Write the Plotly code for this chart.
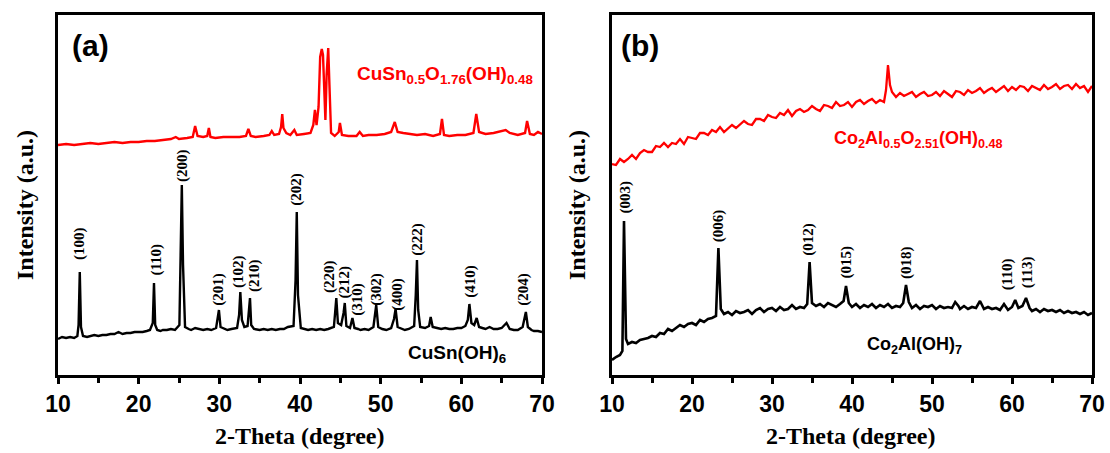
import plotly.graph_objects as go

# ---------------- Panel (a) data ----------------
a_black_x = [10, 10.5, 11, 11.5, 12, 12.4, 12.55, 12.7, 12.85, 13.1, 13.6, 14, 14.5, 15, 15.5, 16, 16.5, 17, 17.5, 18,
             18.5, 19, 19.5, 20, 20.5, 21, 21.4, 21.75, 21.9, 22.05, 22.3, 22.7, 23, 23.5, 24, 24.5, 25.05, 25.2, 25.35,
             25.5, 25.75, 26.2, 26.5, 27, 27.5, 28, 28.5, 29, 29.6, 29.8, 29.95, 30.15, 30.6, 31, 31.5, 32.2, 32.45, 32.6,
             32.8, 33.1, 33.5, 33.65, 33.8, 33.95, 34.3, 35, 35.5, 36, 36.5, 37, 37.5, 38, 38.5, 39.2, 39.45, 39.6, 39.75,
             40.1, 40.6, 41, 41.5, 42, 42.5, 43, 43.5, 44.2, 44.35, 44.5, 44.7, 45.1, 45.4, 45.55, 45.75, 46.2, 46.5,
             46.75, 47.2, 47.5, 48, 48.5, 49.1, 49.3, 49.45, 49.7, 50.2, 50.7, 51.3, 51.65, 51.85, 52.1, 52.6, 53, 53.5,
             54.15, 54.35, 54.5, 54.65, 54.9, 55.5, 56, 56.2, 56.45, 57, 57.5, 58, 58.5, 59, 59.5, 60, 60.5, 60.8, 61.0,
             61.25, 61.6, 61.9, 62.2, 62.6, 63, 63.5, 64, 64.5, 65, 65.6, 66, 66.5, 67, 67.6, 67.85, 68.0, 68.25, 68.7, 69,
             69.5, 70]
a_black_y = [36, 38, 37, 38, 37, 39, 50, 103, 48, 39, 38, 39, 40, 39, 40, 40, 41, 41, 43, 41,
             42, 42, 43, 43, 43, 44, 45, 52, 92, 50, 45, 44, 45, 45, 46, 45, 50, 120, 190, 110, 48, 46, 45, 47, 46, 45, 46,
             45, 47, 56, 65, 48, 46, 45, 46, 47, 60, 83, 55, 48, 49, 62, 77, 50, 46, 45, 46, 45, 46, 45, 46, 46, 48, 49, 95,
             163, 80, 47, 46, 45, 46, 45, 46, 45, 46, 48, 62, 77, 52, 50, 62, 72, 49, 47, 57, 47, 46, 45, 46, 45, 48, 60, 70,
             48, 46, 45, 47, 56, 66, 48, 46, 45, 46, 49, 80, 115, 65, 48, 47, 49, 58, 48, 47, 46, 47, 46, 46, 47, 47, 49, 55,
             71, 52, 50, 57, 48, 47, 46, 48, 46, 46, 47, 52, 46, 45, 45, 48, 56, 63, 48, 45, 44, 44, 43]

a_red_x = [10, 11, 12, 13, 14, 15, 16, 17, 18, 19, 20, 21, 22, 23, 24, 24.6, 25, 26, 26.7, 27, 27.3, 28, 28.5, 28.7,
           28.9, 29.5, 30.5, 31.5, 32.5, 33.3, 33.6, 33.9, 34.5, 35.5, 36.2, 36.5, 36.8, 37.4, 37.65, 37.8, 37.95, 38.3,
           38.8, 39.3, 39.6, 40.5, 41.3, 41.65, 41.85, 42.05, 42.3, 42.5, 42.7, 42.85, 42.95, 43.15, 43.3, 43.5, 43.65,
           43.85, 44.3, 44.8, 44.95, 45.2, 46, 47, 47.4, 47.8, 48.5, 49.5, 50.5, 51.3, 51.75, 52.1, 52.8, 53.5, 54.5,
           55.5, 56.5, 57.35, 57.6, 57.85, 58.5, 59.5, 60.5, 61.5, 61.85, 62.2, 63, 64, 65, 65.5, 66, 67, 67.9, 68.15,
           68.5, 69, 69.5, 70]
a_red_y = [230, 231, 230, 231, 232, 231, 232, 233, 232, 233, 233, 234, 234, 235, 236, 238, 236, 237, 238, 249, 239,
           238, 239, 247, 238, 237, 238, 238, 238, 239, 246, 239, 238, 239, 240, 244, 240, 241, 248, 261, 247, 242,
           240, 245, 240, 241, 242, 250, 265, 250, 268, 318, 326, 320, 300, 255, 300, 327, 290, 242, 239, 243, 252,
           240, 239, 239, 243, 239, 240, 240, 241, 243, 253, 243, 242, 241, 240, 241, 239, 241, 256, 240, 239, 240,
           240, 242, 261, 243, 241, 242, 244, 245, 242, 240, 242, 254, 241, 240, 243, 241]

a_peak_labels = ["(100)", "(110)", "(200)", "(201)", "(102)", "(210)", "(202)", "(220)", "(212)", "(310)",
                 "(302)", "(400)", "(222)", "(410)", "(204)"]
a_peak_x = [12.73, 22.1, 25.5, 29.8, 32.3, 34.3, 39.6, 43.6, 45.4, 47.05, 49.4, 52.0, 54.6, 61.05, 67.6]
a_peak_y = [131, 115, 209, 86, 104, 99, 186, 98, 93, 76, 86, 81, 136, 94, 86]

# ---------------- Panel (b) data ----------------
b_black_x = [10, 10.5, 11, 11.3, 11.5, 11.75, 12, 12.5, 13, 13.5,
             14, 14.5, 15, 15.5, 16, 16.5, 17, 17.5, 18, 18.5,
             19, 19.5, 20, 20.5, 21, 21.5, 22, 22.5, 23, 23.3,
             23.6, 24, 24.5, 25, 25.5, 26, 26.5, 27, 27.5, 28,
             28.5, 29, 29.5, 30, 30.5, 31, 31.5, 32, 32.5, 33,
             33.5, 34, 34.4, 34.7, 35, 35.5, 36, 36.5, 37, 37.5,
             38, 38.5, 38.95, 39.25, 39.6, 40, 40.5, 41, 41.5, 42,
             42.5, 43, 43.5, 44, 44.5, 45, 45.5, 46, 46.4, 46.75,
             47.1, 47.5, 48, 48.5, 49, 49.5, 50, 50.5, 51, 51.5,
             52, 52.5, 52.9, 53.3, 53.5, 54, 54.5, 55, 55.5, 56,
             56.5, 57, 57.5, 58, 58.5, 59, 59.5, 60, 60.4, 60.8,
             61.3, 61.75, 62.2, 62.5, 63, 63.5, 64, 64.5, 65, 65.5,
             66, 66.5, 67, 67.5, 68, 68.5, 69, 69.5, 70]
b_black_y = [15, 18, 20, 24, 154, 36, 31, 33, 32, 35,
             36, 37, 39, 38, 42, 41, 46, 44, 47, 50,
             48, 51, 52, 50, 55, 53, 56, 57, 59, 127,
             66, 61, 63, 60, 64, 62, 63, 65, 61, 65,
             67, 63, 66, 67, 64, 68, 65, 66, 70, 66,
             68, 67, 71, 113, 72, 69, 71, 68, 72, 70,
             68, 71, 74, 89, 72, 68, 71, 67, 70, 68,
             71, 67, 70, 68, 71, 67, 69, 68, 72, 90,
             73, 67, 70, 66, 69, 68, 70, 66, 69, 67,
             68, 67, 73, 69, 66, 69, 66, 68, 67, 74,
             66, 68, 66, 67, 65, 71, 65, 68, 75, 67,
             69, 77, 67, 64, 66, 63, 66, 64, 65, 63,
             65, 62, 64, 62, 63, 61, 63, 60, 62]

b_red_x = [10, 10.5, 11, 11.5, 12, 12.5, 13, 13.5, 14, 14.5,
           15, 15.5, 16, 16.5, 17, 17.5, 18, 18.5, 19, 19.5,
           20, 20.5, 21, 21.5, 22, 22.5, 23, 23.5, 24, 24.5,
           25, 25.5, 26, 26.5, 27, 27.5, 28, 28.5, 29, 29.5,
           30, 30.5, 31, 31.5, 32, 32.5, 33, 33.5, 34, 34.5,
           35, 35.5, 36, 36.5, 37, 37.5, 38, 38.5, 39, 39.5,
           40, 40.5, 41, 41.5, 42, 42.5, 43, 43.5, 44,
           44.25, 44.5, 44.75,
           45, 45.5, 46, 46.5, 47, 47.5, 48, 48.5, 49, 49.5,
           50, 50.5, 51, 51.5, 52, 52.5, 53, 53.5, 54, 54.5,
           55, 55.5, 56, 56.5, 57, 57.5, 58, 58.5, 59, 59.5,
           60, 60.5, 61, 61.5, 62, 62.5, 63, 63.5, 64, 64.5,
           65, 65.5, 66, 66.5, 67, 67.5, 68, 68.5, 69, 69.5,
           70]
b_red_y = [211, 210, 216, 213, 216, 220, 216, 222, 225, 223,
           223, 229, 228, 232, 228, 232, 231, 236, 231, 238,
           237, 236, 242, 242, 240, 245, 243, 248, 243, 247,
           250, 247, 251, 254, 251, 250, 256, 256, 254, 260,
           258, 257, 262, 260, 265, 259, 264, 266, 263, 265,
           269, 266, 264, 270, 269, 267, 273, 269, 270, 273,
           268, 273, 275, 271, 274, 276, 272, 275, 273,
           285, 310, 290,
           283, 278, 282, 279, 281, 283, 278, 281, 283, 279,
           280, 283, 279, 284, 281, 278, 284, 283, 280, 285,
           282, 284, 287, 282, 285, 287, 283, 286, 289, 284,
           288, 285, 289, 288, 284, 289, 287, 285, 290, 286,
           288, 291, 286, 289, 290, 286, 291, 287, 289, 283,
           289]

b_peak_labels = ["(003)", "(006)", "(012)", "(015)", "(018)", "(110)", "(113)"]
b_peak_x = [11.8, 23.4, 34.6, 39.3, 46.75, 59.4, 61.9]
b_peak_y = [178, 149, 136, 113, 112, 101, 103]

x_ticks = [10, 20, 30, 40, 50, 60, 70]
x_tick_text = ["10", "20", "30", "40", "50", "60", "70"]

# ---------------- Figure ----------------
W, H = 1110, 453
RED = "#ff0000"
fig = go.Figure()
fig.add_trace(go.Scatter(x=a_black_x, y=a_black_y, mode="lines", line=dict(color="black", width=2.4),
                         xaxis="x", yaxis="y", showlegend=False))
fig.add_trace(go.Scatter(x=a_red_x, y=a_red_y, mode="lines", line=dict(color=RED, width=2.4),
                         xaxis="x", yaxis="y", showlegend=False))
fig.add_trace(go.Scatter(x=b_black_x, y=b_black_y, mode="lines", line=dict(color="black", width=2.6),
                         xaxis="x2", yaxis="y2", showlegend=False))
fig.add_trace(go.Scatter(x=b_red_x, y=b_red_y, mode="lines", line=dict(color=RED, width=2.3),
                         xaxis="x2", yaxis="y2", showlegend=False))


def px_x(p):
    return p / W


def px_y(p):
    return 1 - p / H


tickfont = dict(family="Liberation Sans, Arial", size=23, color="black", weight="bold")
xcommon = dict(range=[10, 70], tickvals=x_ticks, ticktext=x_tick_text, ticks="outside", ticklen=6,
               tickwidth=2.5, tickcolor="black", showline=True, linewidth=3, linecolor="black", mirror=True,
               showgrid=False, zeroline=False, tickfont=tickfont, ticklabelstandoff=0, automargin=False,
               minor=dict(dtick=5, tick0=10, ticks="outside", ticklen=5, tickwidth=2.5, tickcolor="black"))
ycommon = dict(range=[0, 360], showticklabels=False, ticks="", showline=True, linewidth=3, linecolor="black",
               mirror=True, showgrid=False, zeroline=False, automargin=False)

fig.update_layout(
    width=W, height=H, margin=dict(l=0, r=0, t=0, b=0, pad=0), autosize=False,
    paper_bgcolor="white", plot_bgcolor="white",
    xaxis=dict(domain=[px_x(58), px_x(542)], anchor="y", **xcommon),
    yaxis=dict(domain=[px_y(375), px_y(15)], anchor="x", **ycommon),
    xaxis2=dict(domain=[px_x(612), px_x(1092)], anchor="y2", **xcommon),
    yaxis2=dict(domain=[px_y(375), px_y(15)], anchor="x2", **ycommon),
)

ann = []
serif_b = dict(family="Liberation Serif, Times New Roman", color="black", weight="bold")
for lab, x, y in zip(a_peak_labels, a_peak_x, a_peak_y):
    ann.append(dict(x=x, y=y, xref="x", yref="y", text=lab, showarrow=False, textangle=-90,
                    xanchor="center", yanchor="middle", font=dict(size=15, **serif_b)))
for lab, x, y in zip(b_peak_labels, b_peak_x, b_peak_y):
    ann.append(dict(x=x, y=y, xref="x2", yref="y2", text=lab, showarrow=False, textangle=-90,
                    xanchor="center", yanchor="middle", font=dict(size=15, **serif_b)))

sans_b = dict(family="Liberation Sans, Arial", weight="bold")
ann.append(dict(x=46.8, y=300, xref="x", yref="y", text="CuSn<sub>0.5</sub>O<sub>1.76</sub>(OH)<sub>0.48</sub>",
                showarrow=False, xanchor="left", yanchor="middle", font=dict(size=19, color=RED, **sans_b)))
ann.append(dict(x=53.2, y=21, xref="x", yref="y", text="CuSn(OH)<sub>6</sub>",
                showarrow=False, xanchor="left", yanchor="middle", font=dict(size=19, color="black", **sans_b)))
ann.append(dict(x=37.5, y=235, xref="x2", yref="y2",
                text="Co<sub>2</sub>Al<sub>0.5</sub>O<sub>2.51</sub>(OH)<sub>0.48</sub>",
                showarrow=False, xanchor="left", yanchor="middle", font=dict(size=18, color=RED, **sans_b)))
ann.append(dict(x=41.6, y=30, xref="x2", yref="y2", text="Co<sub>2</sub>Al(OH)<sub>7</sub>",
                showarrow=False, xanchor="left", yanchor="middle", font=dict(size=18, color="black", **sans_b)))

# panel letters
ann.append(dict(x=px_x(90), y=px_y(46), xref="paper", yref="paper", text="(a)", showarrow=False,
                xanchor="center", yanchor="middle", font=dict(size=30, color="black", **sans_b)))
ann.append(dict(x=px_x(640), y=px_y(46), xref="paper", yref="paper", text="(b)", showarrow=False,
                xanchor="center", yanchor="middle", font=dict(size=30, color="black", **sans_b)))

# axis titles
for cx in (300, 851):
    ann.append(dict(x=px_x(cx), y=px_y(436), xref="paper", yref="paper", text="2-Theta (degree)", showarrow=False,
                    xanchor="center", yanchor="middle", font=dict(size=24, **serif_b)))
for cx in (25, 577):
    ann.append(dict(x=px_x(cx), y=px_y(205), xref="paper", yref="paper", text="Intensity (a.u.)", showarrow=False,
                    textangle=-90, xanchor="center", yanchor="middle", font=dict(size=24, **serif_b)))

fig.update_layout(annotations=ann)
fig.write_html("out.html", config={"displayModeBar": False},
               post_script="document.body.style.margin='0';document.body.style.overflow='hidden';")
